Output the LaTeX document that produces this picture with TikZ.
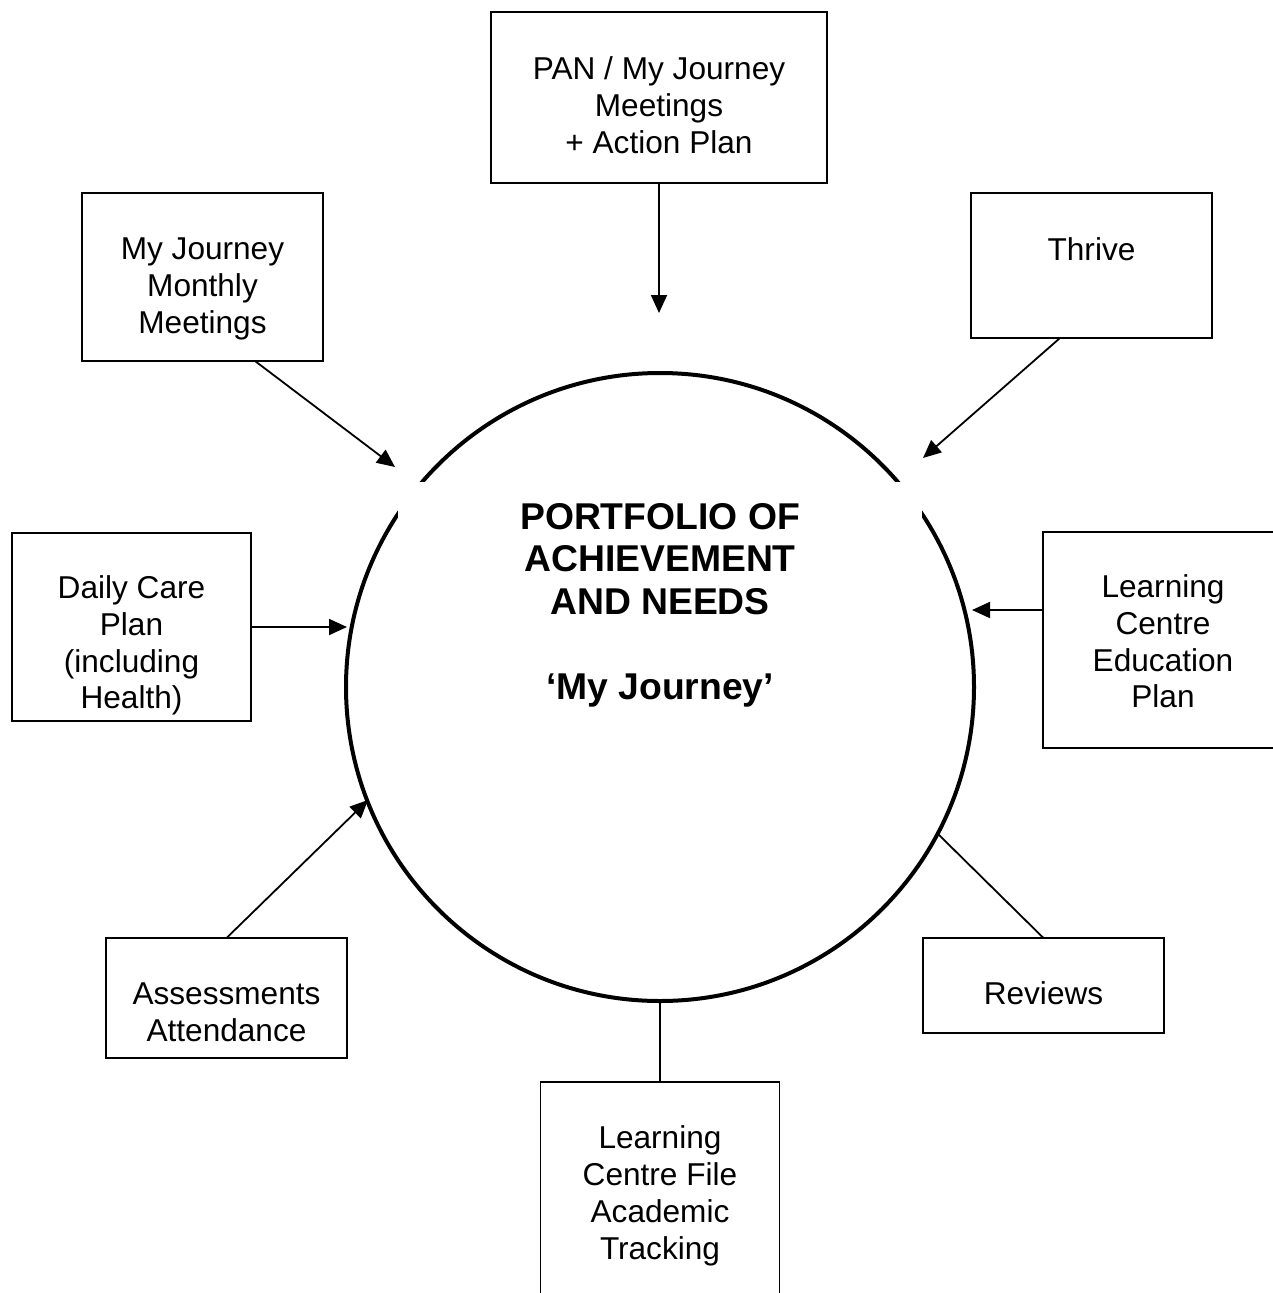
\documentclass[tikz,border=0pt]{standalone}
\usepackage{fontspec}
\setmainfont{Liberation Sans}
\usetikzlibrary{arrows.meta}
\tikzset{
  box/.style={draw=black, line width=1.6pt, inner sep=0pt, outer sep=0pt},
  txt/.style={font=\fontsize{31.6}{36.7}\selectfont, align=center, inner sep=0pt, anchor=north},
  conn/.style={line width=1.8pt},
  arr/.style={conn, -{Triangle[length=18pt,width=16pt]}},
}
\begin{document}
\begin{tikzpicture}[x=1pt,y=-1pt]
\useasboundingbox (0,0) rectangle (1272,1293);
% central circle
\node[draw, circle, line width=4pt, minimum size=628pt, inner sep=0pt] (circ) at (660,687) {};
\node[fill=white, minimum width=524pt, minimum height=280pt, inner sep=0pt] (titlebg) at (660,622) {};
\node[font=\bfseries\fontsize{37.3}{42.7}\selectfont, align=center, inner sep=0pt, anchor=north] (title) at (660,499)
  {\strut PORTFOLIO OF\\ACHIEVEMENT\\AND NEEDS\\[42.7pt]‘My Journey’};
% boxes
\node[box, minimum width=336pt, minimum height=171pt] (pan) at (659,97.5) {};
\node[box, minimum width=241pt, minimum height=168pt] (monthly) at (202.5,277) {};
\node[box, minimum width=241pt, minimum height=145pt] (thrive) at (1091.5,265.5) {};
\node[box, minimum width=239pt, minimum height=188pt] (daily) at (131.5,627) {};
\node[box, minimum width=240pt, minimum height=216pt] (lced) at (1163,640) {};
\node[box, minimum width=241pt, minimum height=120pt] (assess) at (226.5,998) {};
\node[box, minimum width=241pt, minimum height=95pt] (reviews) at (1043.5,985.5) {};
\node[box, minimum width=239pt, minimum height=228pt] (lcfile) at (660,1196) {};
% texts
\node[txt] (pantxt) at ([yshift=-42pt]pan.north) {\strut PAN / My Journey\\Meetings\\+ Action Plan};
\node[txt] (monthlytxt) at ([yshift=-41pt]monthly.north) {\strut My Journey\\Monthly\\Meetings};
\node[txt] (thrivetxt) at ([yshift=-42pt]thrive.north) {\strut Thrive};
\node[txt] (dailytxt) at ([yshift=-40pt]daily.north) {\strut Daily Care\\Plan\\(including\\Health)};
\node[txt] (lcedtxt) at ([yshift=-40pt]lced.north) {\strut Learning\\Centre\\Education\\Plan};
\node[txt] (assesstxt) at ([yshift=-41pt]assess.north) {\strut Assessments\\Attendance};
\node[txt] (reviewstxt) at ([yshift=-41pt]reviews.north) {\strut Reviews};
\node[txt] (lcfiletxt) at ([yshift=-41pt]lcfile.north) {\strut Learning\\Centre File\\Academic\\Tracking};
% connector ends
\coordinate (tpan) at (659,313);
\coordinate (tmonthly) at (395,467);
\coordinate (tthrive) at (923,458);
\coordinate (tdaily) at (347,627);
\coordinate (tlced) at (972,610);
\coordinate (tassess) at (368,800);
\coordinate (treviews) at (937,833);
% connectors
\draw[arr] (pan.south) -- (tpan);
\draw[arr] ([xshift=52.5pt]monthly.south) -- (tmonthly);
\draw[arr] ([xshift=-31.5pt]thrive.south) -- (tthrive);
\draw[arr] (daily.east) -- (tdaily);
\draw[arr] ([yshift=30pt]lced.west) -- (tlced);
\draw[arr] (assess.north) -- (tassess);
\draw[conn] (reviews.north) -- (treviews);
\draw[conn] (lcfile.north) -- (circ.south);
\end{tikzpicture}
\end{document}
